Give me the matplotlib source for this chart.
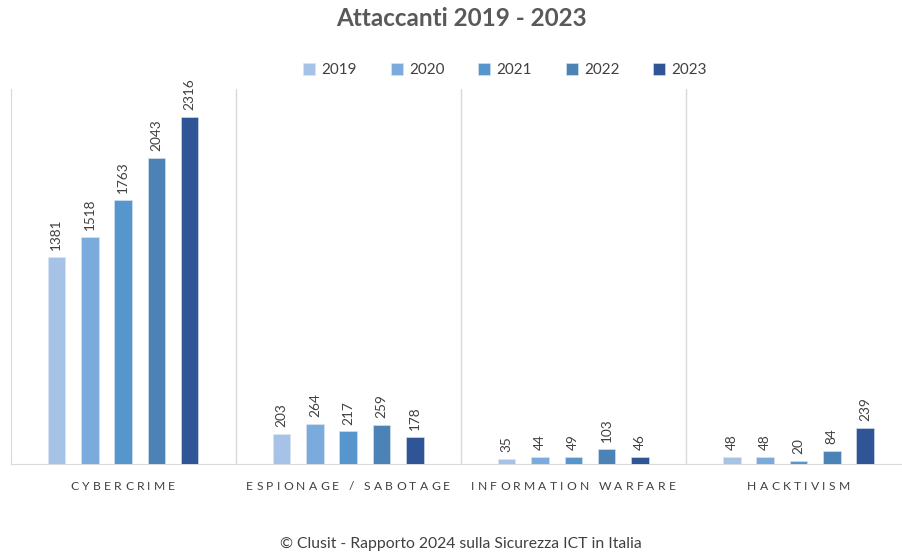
import numpy as np
from matplotlib import pyplot as plt
from matplotlib.transforms import blended_transform_factory
from matplotlib.font_manager import FontProperties

# Attaccanti 2019 - 2023 (Clusit 2024)

categorie = ["CYBERCRIME", "ESPIONAGE / SABOTAGE", "INFORMATION WARFARE", "HACKTIVISM"]
anni = ["2019", "2020", "2021", "2022", "2023"]
valori_2019 = [1381, 203, 35, 48]
valori_2020 = [1518, 264, 44, 48]
valori_2021 = [1763, 217, 49, 20]
valori_2022 = [2043, 259, 103, 84]
valori_2023 = [2316, 178, 46, 239]
serie = [valori_2019, valori_2020, valori_2021, valori_2022, valori_2023]
colori = ["#A6C2E6", "#7BAADC", "#5796CC", "#4C83B6", "#2F5597"]

plt.rcParams['font.family'] = ['Lato', 'DejaVu Sans']
testo = '#404040'

fig = plt.figure(figsize=(9.02, 5.55), dpi=100)
ax = fig.add_axes([10.5 / 902, 1 - 464 / 555, 900.5 / 902, (464 - 89.4) / 555])

x = np.arange(len(categorie))
passo = 0.148
larghezza = 0.078
for i, (anno, vals, col) in enumerate(zip(anni, serie, colori)):
    pos = x + (i - 2) * passo
    ax.bar(pos, vals, width=larghezza, color=col, edgecolor='#DCE6F2', linewidth=0.4,
           label=anno, zorder=3)
    for px, v in zip(pos, vals):
        ax.annotate(str(v), (px, v), xytext=(0, 5), textcoords='offset points',
                    rotation=90, ha='center', va='bottom', fontsize=9.8, color=testo)

ax.set_xlim(-0.5, 3.5)
ax.set_ylim(0, 2500)
ax.set_xticks([])
ax.set_yticks([])
for s in ['top', 'right']:
    ax.spines[s].set_visible(False)
ax.spines['left'].set_color('#D9D9D9')
ax.spines['bottom'].set_color('#D9D9D9')
for sep in [0.5, 1.5, 2.5]:
    ax.axvline(sep, color='#D9D9D9', linewidth=1, zorder=1)

# etichette categorie con spaziatura tra le lettere (a mano, lettera per lettera)
renderer = fig.canvas.get_renderer()
fp = FontProperties(family=['Lato', 'DejaVu Sans'], size=8.7)
spaziatura = 3.2  # pixel tra le lettere
trans = blended_transform_factory(ax.transData, fig.transFigure)
y_cat = 1 - 487 / 555
for xi, cat in zip(x, categorie):
    larghezze = [renderer.get_text_width_height_descent(c, fp, ismath=False)[0] for c in cat]
    totale = sum(larghezze) + spaziatura * (len(cat) - 1)
    cur = -totale / 2
    for c, w in zip(cat, larghezze):
        if c != " ":
            ax.annotate(c, (xi, y_cat), xycoords=trans, xytext=(cur, 0),
                        textcoords='offset pixels', ha='left', va='center',
                        fontproperties=fp, color=testo)
        cur += w + spaziatura

fig.text(461 / 902, 1 - 18 / 555, "Attaccanti 2019 - 2023", ha='center', va='center',
         fontsize=17.5, fontweight='bold', color='#595959')

ax.legend(loc='center', bbox_to_anchor=(505 / 902, 1 - 70 / 555), bbox_transform=fig.transFigure,
          ncol=5, frameon=False, handlelength=0.8, handleheight=0.8, handletextpad=0.4,
          columnspacing=2.2, fontsize=11, labelcolor=testo)

fig.text(461 / 902, 1 - 544 / 555, "© Clusit - Rapporto 2024 sulla Sicurezza ICT in Italia",
         ha='center', va='center', fontsize=11.3, color=testo)

plt.savefig("out.png", dpi=100)
